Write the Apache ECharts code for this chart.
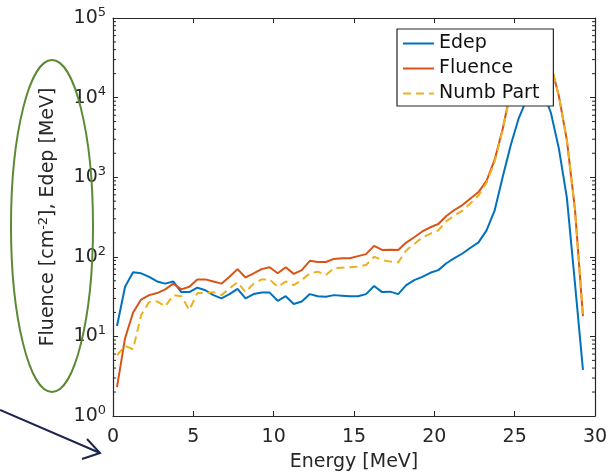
<!DOCTYPE html>
<html>
<head>
<meta charset="utf-8">
<script src="https://cdn.jsdelivr.net/npm/echarts@6/dist/echarts.min.js"></script>
<style>
  html, body { margin: 0; padding: 0; background: #fff; }
  #main { width: 616px; height: 474px; }
</style>
</head>
<body>
<div id="main"></div>
<script>
// energy bins [MeV]
var energy = [0.25, 0.75, 1.25, 1.75, 2.25, 2.75, 3.25, 3.75, 4.25, 4.75, 5.25, 5.75, 6.25, 6.75,
    7.25, 7.75, 8.25, 8.75, 9.25, 9.75, 10.25, 10.75, 11.25, 11.75, 12.25, 12.75, 13.25, 13.75, 14.25, 14.75,
    15.25, 15.75, 16.25, 16.75, 17.25, 17.75, 18.25, 18.75, 19.25, 19.75, 20.25, 20.75, 21.25, 21.75, 22.25, 22.75,
    23.25, 23.75, 24.25, 24.75, 25.25, 25.75, 26.25, 26.75, 27.25, 27.75, 28.25, 28.75, 29.25];

var edep = [13.5, 42, 64, 62, 56, 49, 46, 49, 36, 36, 41, 38, 33, 30,
    34, 39.5, 30, 34, 35.5, 35.5, 28, 32, 25.5, 27.5, 34, 32, 31.5, 33, 32.5, 32,
    32, 34, 43, 36, 36.5, 34, 44, 51, 56, 63, 68, 83, 96, 110, 130, 152,
    215, 380, 1000, 2500, 5500, 9500, 12500, 12000, 6500, 2300, 550, 47, 3.8];

var fluence = [2.3, 9.5, 20, 29, 33, 35, 39, 46, 39, 42, 52, 52, 49, 46,
    56, 70, 55, 62, 70, 74, 62, 74, 61, 68, 89, 86, 86, 94, 96, 96,
    102, 108, 137, 122, 123, 122, 151, 176, 208, 235, 258, 325, 387, 447, 540, 650,
    900, 1650, 4000, 12000, 20000, 27000, 31000, 32000, 26000, 10500, 2900, 400, 18];

var numbPart = [5.8, 7.6, 6.9, 18.5, 27, 27.5, 23.7, 33, 32, 21.5, 35, 35, 36, 33,
    40, 48, 36, 46, 52, 52, 42, 49, 44, 51, 62, 65, 59, 72, 73, 74,
    75, 79, 100, 91, 87, 85, 120, 145, 175, 195, 215, 280, 330, 380, 470, 590,
    850, 1550, 3900, 11500, 19500, 26500, 30000, 31000, 25500, 10500, 2900, 400, 18];

var seriesNames = ['Edep', 'Fluence', 'Numb Part'];

// minor tick positions of the log axis (2..9 in each decade)
var minorTicks = [];
for (var d = 1; d < 100000; d *= 10) {
    for (var k = 2; k <= 9; k++) minorTicks.push(k * d);
}

function pairs(ys) {
    return energy.map(function (e, i) { return [e, ys[i]]; });
}

var FONT = 'DejaVu Sans';
var INK = '#262626';

var myChart = echarts.init(document.getElementById('main'));

var xBase = {
    type: 'value', min: 0, max: 30, interval: 5,
    axisLine: { show: true, onZero: false, lineStyle: { color: INK, width: 1.2 } },
    axisTick: { show: true, inside: true, length: 5, lineStyle: { color: INK } },
    splitLine: { show: false }
};
var yBase = {
    type: 'log', logBase: 10, min: 1, max: 100000,
    axisLine: { show: true, onZero: false, lineStyle: { color: INK, width: 1.2 } },
    axisTick: { show: true, inside: true, length: 5, lineStyle: { color: INK } },
    splitLine: { show: false }
};

myChart.setOption({
    animation: false,
    textStyle: { fontFamily: FONT },
    grid: { left: 113, right: 21, top: 18, bottom: 58, containLabel: false, outerBoundsMode: 'none' },
    legend: {
        data: seriesNames,
        orient: 'vertical',
        left: 397, top: 29,
        itemWidth: 31, itemHeight: 14, itemGap: 6,
        padding: [5, 14, 3, 5],
        itemStyle: { opacity: 0 },
        borderColor: INK, borderWidth: 1.2, borderRadius: 0,
        backgroundColor: '#fff',
        textStyle: { fontFamily: FONT, fontSize: 19, color: '#111', padding: [0, 0, 0, 0] }
    },
    xAxis: [
        echarts.util.merge({
            position: 'bottom',
            name: 'Energy [MeV]', nameLocation: 'middle', nameGap: 37,
            nameTextStyle: { fontFamily: FONT, fontSize: 19, color: INK },
            axisLabel: { fontFamily: FONT, fontSize: 19, color: INK, margin: 12 }
        }, xBase, true),
        echarts.util.merge({ position: 'top', axisLabel: { show: false } }, xBase, true)
    ],
    yAxis: [
        echarts.util.merge({
            position: 'left',
            name: 'Fluence [cm{sup|-2}], Edep [MeV]', nameLocation: 'middle', nameGap: 54,
            nameTextStyle: {
                fontFamily: FONT, fontSize: 19, color: INK,
                rich: { sup: { fontFamily: FONT, fontSize: 13, color: INK, padding: [0, 0, 9, 0] } }
            },
            axisLabel: {
                margin: 7,
                formatter: function (v) {
                    return '{b|10}{s|' + Math.round(Math.log(v) / Math.LN10) + '}';
                },
                rich: {
                    b: { fontFamily: FONT, fontSize: 19, color: INK },
                    s: { fontFamily: FONT, fontSize: 13, color: INK, padding: [0, 0, 11, 0] }
                }
            }
        }, yBase, true),
        echarts.util.merge({ position: 'right', axisLabel: { show: false } }, yBase, true)
    ],
    graphic: [
        {   // green ellipse around the y label
            type: 'ellipse', z: 100,
            shape: { cx: 52, cy: 226, rx: 41, ry: 166 },
            style: { fill: 'none', stroke: '#5b8a34', lineWidth: 2 }
        },
        {   // arrow pointing at the x origin
            type: 'polyline', z: 100,
            shape: { points: [[0, 410], [100, 453]] },
            style: { stroke: '#1c2550', lineWidth: 2 }
        },
        {
            type: 'polyline', z: 100,
            shape: { points: [[87, 439], [100, 453], [82, 459]] },
            style: { stroke: '#1c2550', lineWidth: 2, fill: 'none' }
        }
    ],
    series: [
        {
            name: 'Edep', type: 'line', data: pairs(edep),
            symbol: 'none', color: '#0072BD',
            lineStyle: { width: 2, color: '#0072BD' }
        },
        {
            name: 'Fluence', type: 'line', data: pairs(fluence),
            symbol: 'none', color: '#D95319',
            lineStyle: { width: 2, color: '#D95319' }
        },
        {
            name: 'Numb Part', type: 'line', data: pairs(numbPart),
            symbol: 'none', color: '#EDB120',
            lineStyle: { width: 2, color: '#EDB120', type: [8, 5] }
        },
        {
            // minor ticks on left and right sides of the box
            type: 'custom', silent: true,
            data: minorTicks.map(function (v) { return [0, v]; }),
            renderItem: function (params, api) {
                var p = api.coord([0, api.value(1)]);
                var cs = params.coordSys;
                var r = cs.x + cs.width;
                return {
                    type: 'group',
                    children: [
                        { type: 'line', shape: { x1: cs.x, y1: p[1], x2: cs.x + 3, y2: p[1] }, style: { stroke: INK, lineWidth: 1 } },
                        { type: 'line', shape: { x1: r, y1: p[1], x2: r - 3, y2: p[1] }, style: { stroke: INK, lineWidth: 1 } }
                    ]
                };
            }
        }
    ]
});
</script>
</body>
</html>
